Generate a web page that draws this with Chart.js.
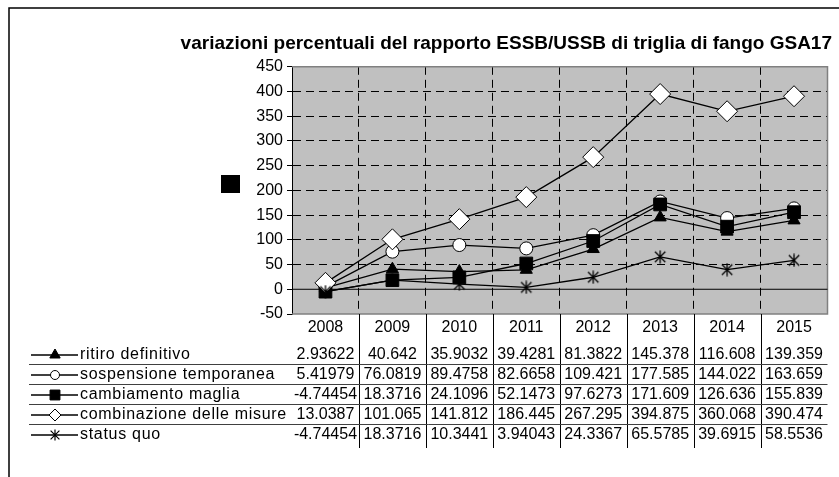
<!DOCTYPE html>
<html>
<head>
  <meta charset="UTF-8">
  <title>variazioni percentuali ESSB/USSB triglia di fango GSA17</title>
  <script src="https://cdn.jsdelivr.net/npm/chart.js"></script>
  <style>
    html, body { margin: 0; padding: 0; background: #fff; }
    #wrap { width: 839px; height: 477px; position: relative; }
  </style>
</head>
<body>
  <div id="wrap"><canvas id="grafico"></canvas></div>

  <script>
    const anni = ["2008", "2009", "2010", "2011", "2012", "2013", "2014", "2015"];
    const ritiroDefinitivo = [2.93622, 40.642, 35.9032, 39.4281, 81.3822, 145.378, 116.608, 139.359];
    const sospensioneTemporanea = [5.41979, 76.0819, 89.4758, 82.6658, 109.421, 177.585, 144.022, 163.659];
    const cambiamentoMaglia = [-4.74454, 18.3716, 24.1096, 52.1473, 97.6273, 171.609, 126.636, 155.839];
    const combinazioneMisure = [13.0387, 101.065, 141.812, 186.445, 267.295, 394.875, 360.068, 390.474];
    const statusQuo = [-4.74454, 18.3716, 10.3441, 3.94043, 24.3367, 65.5785, 39.6915, 58.5536];
    const nomiSerie = ["ritiro definitivo", "sospensione temporanea", "cambiamento maglia", "combinazione delle misure", "status quo"];
    const titolo = "variazioni percentuali del rapporto ESSB/USSB di triglia di fango GSA17";
    const yMin = -50, yMax = 450, yPasso = 50;

    const FONT = "'Liberation Sans', Arial, sans-serif";

    // asterisco stile Excel (verticale + X)
    function asterisco(size, lw) {
      const c = document.createElement("canvas");
      c.width = size; c.height = size;
      const g = c.getContext("2d");
      g.strokeStyle = "#000";
      g.lineWidth = lw;
      const m = size / 2, r = size / 2 - 0.5, d = r * 0.8;
      g.beginPath();
      g.moveTo(m, m - r); g.lineTo(m, m + r);
      g.moveTo(m - d, m - d); g.lineTo(m + d, m + d);
      g.moveTo(m + d, m - d); g.lineTo(m - d, m + d);
      g.stroke();
      return c;
    }

    const stili = [
      { punto: "triangle", fondo: "#000", r: 7, rLeg: 6, order: 5 },
      { punto: "circle", fondo: "#fff", r: 6.5, rLeg: 4.5, order: 4 },
      { punto: "rect", fondo: "#000", r: 9, rLeg: 7, order: 3 },
      { punto: "rectRot", fondo: "#fff", r: 10.5, rLeg: 6, order: 2 },
      { punto: asterisco(14, 1.3), fondo: "#000", r: 7, rLeg: 6, order: 1, leg: asterisco(12, 1.2) }
    ];
    const valori = [ritiroDefinitivo, sospensioneTemporanea, cambiamentoMaglia, combinazioneMisure, statusQuo];

    const datasets = valori.map((v, i) => ({
      label: nomiSerie[i],
      data: v,
      order: stili[i].order,
      borderColor: "#000",
      borderWidth: 1.3,
      pointStyle: stili[i].punto,
      pointRadius: stili[i].r,
      pointHoverRadius: stili[i].r,
      pointBackgroundColor: stili[i].fondo,
      pointBorderColor: "#000",
      pointBorderWidth: 1,
      tension: 0,
      fill: false
    }));

    const tabella = {
      id: "tabella",
      beforeDraw(chart) {
        const { ctx, chartArea: a } = chart;
        ctx.save();
        ctx.fillStyle = "#fff";
        ctx.fillRect(0, 0, chart.width, chart.height);
        ctx.fillStyle = "#c0c0c0";
        ctx.fillRect(a.left, a.top, a.right - a.left, a.bottom - a.top);
        ctx.restore();
      },
      beforeDatasetsDraw(chart) {
        const { ctx, chartArea: a, scales } = chart;
        ctx.save();
        // cornice grigia dell'area del tracciato
        ctx.strokeStyle = "#808080";
        ctx.lineWidth = 1.5;
        ctx.beginPath();
        ctx.moveTo(a.left, a.top); ctx.lineTo(a.right, a.top);
        ctx.lineTo(a.right, a.bottom); ctx.lineTo(a.left, a.bottom);
        ctx.stroke();
        // asse delle categorie sullo zero
        const y0 = scales.y.getPixelForValue(0);
        ctx.strokeStyle = "#000";
        ctx.lineWidth = 1;
        ctx.beginPath();
        ctx.moveTo(a.left, y0); ctx.lineTo(a.right, y0);
        ctx.stroke();
        ctx.restore();
      },
      afterDraw(chart) {
        const { ctx, chartArea: a, scales } = chart;
        const x = scales.x;
        const centri = anni.map((_, i) => x.getPixelForValue(i));
        const rigaAnni = a.bottom + 14;
        const righe = nomiSerie.map((_, i) => a.bottom + 41 + i * 20);
        const fondoTab = righe[righe.length - 1] + 13;
        ctx.save();

        // bordo esterno del grafico
        ctx.strokeStyle = "#000";
        ctx.lineWidth = 1.5;
        ctx.strokeRect(9, 8, chart.width + 20, chart.height + 20);

        // quadratino nero rimasto dalla legenda
        ctx.fillStyle = "#000";
        ctx.fillRect(221, 175, 19, 18);

        // linee verticali della tabella
        ctx.lineWidth = 1;
        ctx.strokeStyle = "#000";
        ctx.beginPath();
        for (let i = 0; i < centri.length - 1; i++) {
          const bx = Math.round((centri[i] + centri[i + 1]) / 2) + 0.5;
          ctx.moveTo(bx, a.bottom); ctx.lineTo(bx, fondoTab);
        }
        ctx.stroke();

        // linee orizzontali tra le serie
        ctx.strokeStyle = "#404040";
        ctx.beginPath();
        for (let i = 0; i < righe.length - 1; i++) {
          const ly = Math.round(righe[i] + 9) + 0.5;
          ctx.moveTo(29, ly); ctx.lineTo(a.right, ly);
        }
        ctx.stroke();

        ctx.fillStyle = "#000";
        ctx.font = "16px " + FONT;
        ctx.textBaseline = "middle";
        ctx.textAlign = "center";
        anni.forEach((t, i) => ctx.fillText(t, centri[i], rigaAnni));

        valori.forEach((serie, s) => {
          const ry = righe[s];
          ctx.textAlign = "center";
          ctx.fillStyle = "#000";
          serie.forEach((v, i) => ctx.fillText(String(v), centri[i], ry));
          // chiave della legenda
          ctx.strokeStyle = "#000";
          ctx.lineWidth = 1.3;
          ctx.beginPath();
          ctx.moveTo(31, ry); ctx.lineTo(78, ry);
          ctx.stroke();
          ctx.fillStyle = stili[s].fondo;
          ctx.lineWidth = 1;
          Chart.helpers.drawPoint(ctx, {
            pointStyle: stili[s].leg || stili[s].punto,
            radius: stili[s].rLeg,
            borderWidth: 1,
            rotation: 0
          }, 55, ry);
          ctx.fillStyle = "#000";
          ctx.textAlign = "left";
          if ("letterSpacing" in ctx) ctx.letterSpacing = "0.7px";
          ctx.fillText(nomiSerie[s], 80, ry);
          if ("letterSpacing" in ctx) ctx.letterSpacing = "0px";
        });
        ctx.restore();
      }
    };

    new Chart(document.getElementById("grafico"), {
      type: "line",
      data: { labels: anni, datasets: datasets },
      options: {
        animation: false,
        responsive: true,
        maintainAspectRatio: false,
        layout: { padding: { left: 0, right: 7, top: 0, bottom: 163 } },
        scales: {
          x: {
            offset: true,
            afterFit: s => { s.height = 0; },
            ticks: { display: false },
            border: { display: false, dash: [8, 5] },
            grid: {
              offset: true,
              drawTicks: false,
              lineWidth: 1,
              color: c => (c.index === 0 || c.index === anni.length) ? "rgba(0,0,0,0)" : "#000"
            }
          },
          y: {
            min: yMin,
            max: yMax,
            afterFit: s => { s.width = 292; },
            ticks: {
              stepSize: yPasso,
              padding: 4,
              color: "#000",
              font: { family: FONT, size: 16 }
            },
            border: { display: true, color: "#000", width: 1, dash: [8, 5] },
            grid: {
              lineWidth: 1,
              tickLength: 5,
              tickColor: "#000",
              color: c => (c.tick && (c.tick.value === 0 || c.tick.value === yMin || c.tick.value === yMax)) ? "rgba(0,0,0,0)" : "#000"
            }
          }
        },
        plugins: {
          legend: { display: false },
          tooltip: { enabled: false },
          title: {
            display: true,
            text: titolo,
            align: "end",
            color: "#000",
            font: { family: FONT, size: 19, weight: "bold" },
            padding: { top: 32, bottom: 12 }
          }
        }
      },
      plugins: [tabella]
    });
  </script>
</body>
</html>
